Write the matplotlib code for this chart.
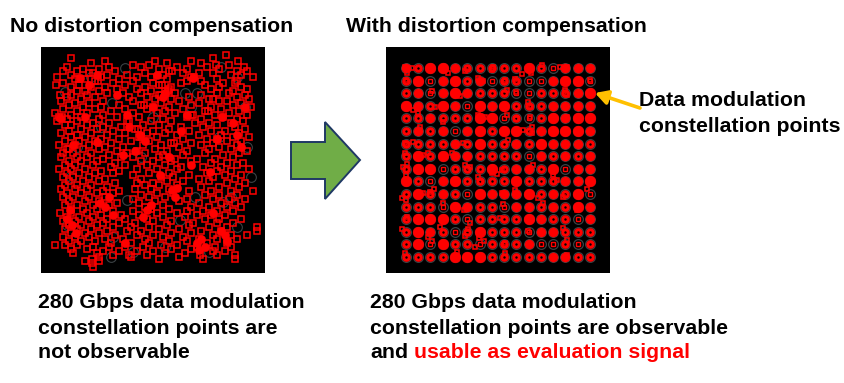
#!/usr/bin/env python3
"""Constellation diagrams without and with distortion compensation."""

import matplotlib
matplotlib.use("Agg")
import matplotlib.pyplot as plt
from matplotlib.patches import Polygon

plt.rcParams["font.family"] = ["Liberation Sans", "DejaVu Sans"]

RED = "#FF0000"
RING = "#3C4245"
FONT_SIZE = 15.3

# left panel in panel pixels: one q value per row of i values
LEFT_Q = [8, 11, 14, 16, 18, 20, 22, 24, 26, 28, 30, 32, 34, 36, 38, 40, 42, 44, 46, 48,
          50, 52, 54, 56, 58, 60, 62, 64, 66, 68, 70, 72, 74, 76, 78, 80, 82, 84, 86, 88,
          90, 92, 94, 96, 98, 100, 102, 104, 106, 108, 110, 112, 114, 116, 118, 120, 122,
          124, 126, 128, 130, 132, 134, 136, 138, 140, 142, 144, 146, 148, 150, 152, 154,
          156, 158, 160, 162, 164, 166, 168, 170, 172, 174, 176, 178, 180, 182, 184, 186,
          188, 190, 192, 194, 196, 198, 200, 202, 204, 206, 208, 210, 212, 214, 216, 220]
LEFT_I = [
    [185],
    [30, 172],
    [64, 114, 150, 197],
    [50, 126, 160],
    [92, 108, 175, 188],
    [26, 68, 100, 136, 166, 203],
    [42, 58, 118, 146, 178],
    [22, 36, 74, 128, 131, 196, 206],
    [48, 52, 104, 142, 158, 172],
    [30, 66, 86, 122, 190, 200],
    [16, 60, 96, 110, 150, 153, 212],
    [34, 38, 44, 78, 126, 176],
    [54, 57, 92, 146, 160, 196],
    [22, 72, 112, 140, 182, 194],
    [15, 38, 84, 118, 121, 164],
    [30, 50, 64, 104, 130, 178, 200],
    [76, 96, 128, 170, 206],
    [36, 44, 58, 110, 124, 127, 192],
    [66, 82, 100, 134, 176, 188],
    [19, 30, 46, 118, 120, 160, 204],
    [26, 54, 88, 106, 148, 196],
    [40, 114, 130, 168, 172, 208],
    [20, 62, 92, 138, 178, 186],
    [34, 48, 120, 158, 200],
    [28, 78, 100, 103, 150, 192],
    [42, 60, 112, 128, 170, 210],
    [22, 54, 84, 106, 142, 180],
    [36, 70, 124, 164, 167, 198],
    [14, 46, 92, 116, 134, 188],
    [30, 62, 150, 152, 174, 206],
    [18, 21, 40, 76, 98, 146, 182],
    [26, 58, 122, 160, 196],
    [16, 36, 86, 88, 110, 130, 202],
    [52, 68, 154, 168, 190],
    [24, 30, 46, 102, 118, 176],
    [62, 80, 140, 162, 194],
    [40, 56, 94, 97, 128, 204],
    [28, 72, 112, 148, 170, 184],
    [20, 50, 84, 106, 124, 198],
    [36, 66, 136, 158, 180],
    [30, 44, 98, 100, 116, 192, 208],
    [60, 78, 142, 166, 176],
    [24, 38, 54, 90, 108, 186, 200],
    [70, 130, 133, 150, 172],
    [18, 34, 48, 102, 120, 160, 196],
    [64, 82, 138, 178],
    [26, 28, 42, 58, 114, 168, 190],
    [76, 96, 126, 146, 206],
    [22, 32, 50, 86, 104, 164, 198],
    [68, 122, 142, 182],
    [20, 36, 46, 80, 92, 118, 192],
    [62, 134, 156, 174],
    [28, 40, 56, 100, 112, 130, 150],
    [74, 170, 186, 202],
    [24, 34, 52, 84, 106, 124, 196],
    [70, 140, 162, 180],
    [18, 30, 44, 96, 116, 136, 208],
    [60, 78, 176, 190],
    [26, 38, 54, 72, 108, 128, 166],
    [92, 148, 184, 200],
    [22, 32, 48, 120, 132, 172],
    [64, 100, 158, 194],
    [28, 42, 58, 126, 142, 168],
    [74, 96, 112, 186, 204],
    [24, 36, 50, 104, 118, 136],
    [66, 160, 178, 198],
    [20, 34, 46, 94, 110, 128],
    [62, 78, 148, 170, 190, 212],
    [26, 40, 56, 72, 116, 132],
    [100, 164, 178, 196],
    [22, 32, 48, 64, 108, 124],
    [92, 146, 172, 188, 204],
    [28, 44, 58, 114, 138],
    [76, 98, 158, 180, 194],
    [24, 36, 52, 68, 122],
    [104, 150, 168, 186, 200],
    [30, 42, 56, 110, 128],
    [72, 92, 146, 162, 176, 192],
    [19, 30, 46, 116, 136],
    [60, 80, 98, 156, 170, 184],
    [26, 38, 52, 122, 144],
    [66, 84, 106, 164, 178, 200],
    [22, 34, 48, 112, 130],
    [62, 78, 94, 152, 176, 192],
    [28, 40, 56, 126, 148],
    [72, 90, 108, 168, 186, 216],
    [24, 36, 50, 118, 138],
    [66, 86, 100, 160, 180, 216],
    [30, 44, 58, 130, 150],
    [74, 96, 112, 172, 190, 206],
    [22, 34, 48, 122, 142],
    [64, 82, 104, 158, 176, 196],
    [28, 40, 54, 128, 146],
    [70, 90, 108, 166, 186],
    [14, 24, 36, 120, 136],
    [52, 68, 84, 102, 156, 174, 190],
    [30, 46, 130, 150],
    [62, 78, 96, 112, 172, 184],
    [32, 56, 124, 144],
    [72, 88, 106, 159, 176, 194],
    [58, 90, 138],
    [51, 118, 162, 194],
    [44, 58],
    [51],
    [52],
]

# solid clumps where many samples pile up in the left panel
LEFT_CLUMP_I = [39, 56, 124, 146, 152, 181, 196, 31, 59, 84, 106, 29, 131, 169, 156, 184, 119,
                19, 86, 99, 32, 56, 76, 116, 122, 112, 88, 94, 104, 82, 35, 26, 64, 72, 68,
                102, 110, 134, 136, 160, 164, 158, 186, 180, 176, 200, 204, 192, 48, 44, 140,
                128, 150, 172]
LEFT_CLUMP_Q = [31, 28, 46, 68, 31, 70, 88, 178, 156, 196, 163, 163, 143, 125, 196, 188, 128,
                71, 68, 88, 98, 95, 48, 28, 50, 60, 80, 104, 94, 108, 186, 172, 160, 168, 150,
                170, 158, 150, 141, 192, 200, 203, 194, 184, 92, 100, 60, 76, 38, 70, 84,
                110, 118, 166]

# rings that show through in the gaps of the left panel
LEFT_RING_I = [24, 84, 71, 144, 156, 180, 196, 204, 36, 60, 86, 154, 182, 139, 112, 30, 206, 196,
               72, 124, 168, 50, 100, 190, 26, 150, 92, 210, 70, 178]
LEFT_RING_Q = [45, 21, 56, 46, 46, 20, 30, 60, 100, 80, 153, 150, 155, 173, 70, 130, 100, 180,
               190, 200, 205, 30, 110, 150, 178, 60, 205, 130, 210, 90]

# right panel: the 16 levels on each axis, in panel pixels
RIGHT_I = [20, 32, 44, 57, 69, 81, 94, 106, 118, 130, 143, 155, 167, 179, 192, 204]
RIGHT_Q = [21, 34, 46, 59, 71, 84, 97, 109, 122, 134, 147, 160, 172, 185, 197, 210]

# how far each symbol has spread: 0 ring, 1 open blob, 2 small solid, 3 large solid
RIGHT_SPREAD = [
    [2, 1, 3, 3, 2, 1, 1, 1, 1, 1, 3, 1, 0, 2, 2, 2],
    [1, 3, 0, 2, 3, 1, 2, 0, 1, 1, 0, 0, 2, 3, 3, 0],
    [1, 2, 0, 2, 3, 2, 1, 1, 1, 0, 0, 1, 1, 1, 2, 3],
    [3, 2, 1, 3, 2, 0, 3, 2, 3, 1, 1, 1, 2, 2, 2, 2],
    [1, 1, 2, 1, 1, 1, 3, 3, 0, 1, 0, 1, 3, 2, 3, 3],
    [1, 2, 1, 2, 0, 2, 3, 1, 3, 3, 1, 2, 3, 3, 3, 2],
    [1, 1, 1, 1, 2, 1, 3, 1, 1, 2, 1, 3, 2, 2, 2, 1],
    [1, 3, 1, 3, 2, 2, 1, 1, 1, 1, 0, 2, 1, 2, 1, 2],
    [1, 3, 3, 0, 1, 1, 1, 3, 1, 2, 2, 1, 3, 0, 2, 2],
    [3, 1, 0, 2, 3, 1, 1, 1, 1, 3, 1, 1, 1, 2, 2, 3],
    [1, 3, 1, 2, 1, 0, 3, 2, 2, 2, 3, 1, 2, 1, 3, 0],
    [1, 1, 1, 0, 3, 2, 1, 1, 0, 2, 2, 1, 2, 1, 3, 2],
    [1, 3, 3, 3, 1, 0, 1, 1, 1, 1, 3, 2, 1, 1, 0, 2],
    [1, 3, 2, 1, 0, 1, 3, 1, 1, 1, 0, 2, 2, 1, 1, 1],
    [1, 3, 0, 3, 1, 1, 0, 1, 1, 1, 2, 0, 0, 1, 0, 1],
    [1, 1, 1, 1, 3, 3, 3, 1, 1, 1, 1, 1, 2, 2, 1, 1],
]

# samples that sit away from their symbol in the right panel
STRAY_I = [19, 26, 21, 20, 62, 81, 79, 106, 107, 92, 97, 46, 74, 27, 32, 49, 92, 99, 57, 34,
           27, 19, 77, 94, 19, 37, 42, 66, 136, 145, 156, 181, 174, 119, 129, 204, 179, 181,
           121, 130, 142, 145, 121, 130, 144, 181, 137, 146, 146, 131, 122, 21, 17, 79, 84,
           20, 94, 92, 106, 37, 44, 48, 20, 16, 57, 78, 21, 32, 16, 54, 84, 82, 42, 46, 93,
           98, 79, 89, 19, 71, 111, 116, 147, 167, 171, 116, 129, 177, 191, 201, 117, 152,
           157, 191, 114, 142, 177, 181, 119, 119, 181]
STRAY_Q = [20, 21, 26, 33, 26, 21, 24, 23, 20, 31, 34, 44, 49, 63, 66, 60, 68, 70, 75, 80,
           95, 96, 96, 96, 106, 108, 106, 106, 27, 26, 18, 20, 20, 33, 32, 33, 43, 48, 43,
           45, 55, 60, 68, 72, 70, 70, 83, 80, 86, 86, 93, 117, 120, 118, 120, 128, 135, 130,
           126, 146, 145, 142, 153, 151, 156, 163, 170, 172, 182, 180, 176, 182, 190, 194,
           191, 194, 189, 200, 206, 205, 127, 123, 118, 128, 133, 146, 143, 150, 148, 142,
           157, 151, 156, 163, 171, 184, 181, 193, 196, 206, 208]


def panel(fig, left, top, width=224, height=226):
    """Black constellation panel positioned in figure pixels."""
    W, H = fig.get_size_inches() * fig.dpi
    ax = fig.add_axes([left / W, 1 - (top + height) / H, width / W, height / H])
    ax.set_facecolor("black")
    ax.set_xlim(0, width)
    ax.set_ylim(height, 0)
    ax.set_xticks([])
    ax.set_yticks([])
    for spine in ax.spines.values():
        spine.set_visible(False)
    return ax


def draw_squares(ax, xs, ys, size=4.0):
    ax.plot(xs, ys, ls="none", marker="s", ms=size, mfc="none", mec=RED, mew=1.1, zorder=4)


def main():
    fig = plt.figure(figsize=(8.45, 3.83), dpi=100)
    page = fig.add_axes([0, 0, 1, 1])
    page.set_xlim(0, 845)
    page.set_ylim(383, 0)
    page.axis("off")
    page.set_zorder(10)

    # left constellation
    ax = panel(fig, 41, 47)
    ax.plot(LEFT_RING_I, LEFT_RING_Q, ls="none", marker="o", ms=7, mfc="none",
            mec=RING, mew=0.8, zorder=2)
    ax.plot(LEFT_CLUMP_I, LEFT_CLUMP_Q, ls="none", marker="o", ms=6, mfc=RED, mec=RED,
            mew=0.3, zorder=3)
    xs = [i for q, row in zip(LEFT_Q, LEFT_I) for i in row]
    ys = [q for q, row in zip(LEFT_Q, LEFT_I) for i in row]
    draw_squares(ax, xs, ys)

    # right constellation
    ax = panel(fig, 386, 47)
    for q, row in zip(RIGHT_Q, RIGHT_SPREAD):
        for i, spread in zip(RIGHT_I, row):
            ax.plot(i, q, marker="o", ms=7.0, mfc="none", mec=RING, mew=0.9, zorder=2)
            if spread == 0:
                ax.plot(i, q, marker="s", ms=3.0, mfc="none", mec=RED, mew=1.0, zorder=3)
            elif spread == 1:
                ax.plot(i, q, marker="o", ms=4.0, mfc="none", mec=RED, mew=2.2, zorder=3)
            elif spread == 2:
                ax.plot(i, q, marker="o", ms=6.6, mfc=RED, mec=RED, mew=0.3, zorder=3)
            else:
                ax.plot(i, q, marker="o", ms=7.8, mfc=RED, mec=RED, mew=0.3, zorder=3)
    draw_squares(ax, STRAY_I, STRAY_Q, size=3.2)

    # block arrow between the panels
    page.add_patch(Polygon(
        [(291, 142), (325, 142), (325, 122), (360, 160), (325, 199), (325, 179), (291, 179)],
        closed=True, facecolor="#70AD47", edgecolor="#1F3864", linewidth=1.4,
    ))

    # pointer to the constellation points
    page.annotate("", xy=(595, 93), xytext=(640, 108),
                  arrowprops=dict(arrowstyle="-|>,head_length=0.75,head_width=0.42",
                                  color="#FFC000", lw=2.6, shrinkA=0, shrinkB=0))

    text = dict(fontsize=FONT_SIZE, fontweight="bold", color="black", va="center", ha="left")
    page.text(10, 27, "No distortion compensation", **text)
    page.text(346, 27, "With distortion compensation", **text)
    page.text(639, 101, "Data modulation", **text)
    page.text(639, 126, "constellation points", **text)
    page.text(38, 303, "280 Gbps data modulation", **text)
    page.text(38, 328, "constellation points are", **text)
    page.text(38, 353, "not observable", **text)
    page.text(370, 303, "280 Gbps data modulation", **text)
    page.text(370, 328, "constellation points are observable", **text)
    page.text(370, 353, "and", **text)
    text["color"] = RED
    page.text(414, 353, "usable as evaluation signal", **text)

    fig.savefig("out.png", dpi=100, facecolor="white")
    plt.close(fig)


if __name__ == "__main__":
    main()
